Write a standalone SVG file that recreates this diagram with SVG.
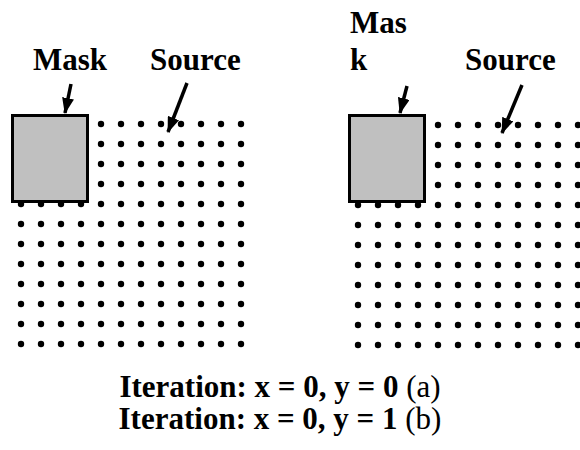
<svg xmlns="http://www.w3.org/2000/svg" width="580" height="450" viewBox="0 0 580 450">
<style>
.lbl{font-family:"Liberation Serif","Times New Roman",serif;font-weight:bold;font-size:31px;fill:#000}
.cap{font-family:"Liberation Serif","Times New Roman",serif;font-size:31px;fill:#000}
.mask{fill:#c0c0c0;stroke:#000;stroke-width:3}
.arr{stroke:#000;stroke-width:3.5;fill:none;marker-end:url(#ah)}
</style>
<defs>
<marker id="ah" markerUnits="userSpaceOnUse" markerWidth="16" markerHeight="12" refX="15" refY="6" orient="auto">
<path d="M0,0 L16,6 L0,12 Z" fill="#000"/>
</marker>
<pattern id="dotsL" patternUnits="userSpaceOnUse" x="11" y="114" width="20" height="20">
<circle cx="10" cy="10" r="3.2" fill="#000"/>
</pattern>
<pattern id="dotsR" patternUnits="userSpaceOnUse" x="348" y="115" width="20" height="20">
<circle cx="10" cy="10" r="3.2" fill="#000"/>
</pattern>
</defs>
<rect width="580" height="450" fill="#fff"/>
<g id="source-left">
<rect x="11" y="114" width="240" height="240" fill="url(#dotsL)"/>
</g>
<g id="mask-left">
<rect class="mask" x="12.5" y="115.5" width="75" height="86"/>
</g>
<g id="source-right">
<rect x="348" y="115" width="232" height="240" fill="url(#dotsR)"/>
</g>
<g id="mask-right">
<rect class="mask" x="349.5" y="115.5" width="75" height="86"/>
</g>
<g id="labels">
<text class="lbl" x="33" y="70">Mask</text>
<text class="lbl" x="150" y="70">Source</text>
<text class="lbl" x="350" y="33">Mas</text>
<text class="lbl" x="350" y="70">k</text>
<text class="lbl" x="465" y="70">Source</text>
</g>
<g id="connectors">
<line class="arr" x1="71" y1="84" x2="65" y2="113"/>
<line class="arr" x1="187" y1="83" x2="168" y2="132"/>
<line class="arr" x1="407" y1="86" x2="400" y2="113"/>
<line class="arr" x1="522" y1="85" x2="502" y2="133"/>
</g>
<g id="caption">
<text class="cap" x="280" y="397" text-anchor="middle"><tspan font-weight="bold">Iteration: x = 0, y = 0</tspan> (a)</text>
<text class="cap" x="280" y="429" text-anchor="middle"><tspan font-weight="bold">Iteration: x = 0, y = 1</tspan> (b)</text>
</g>
</svg>
